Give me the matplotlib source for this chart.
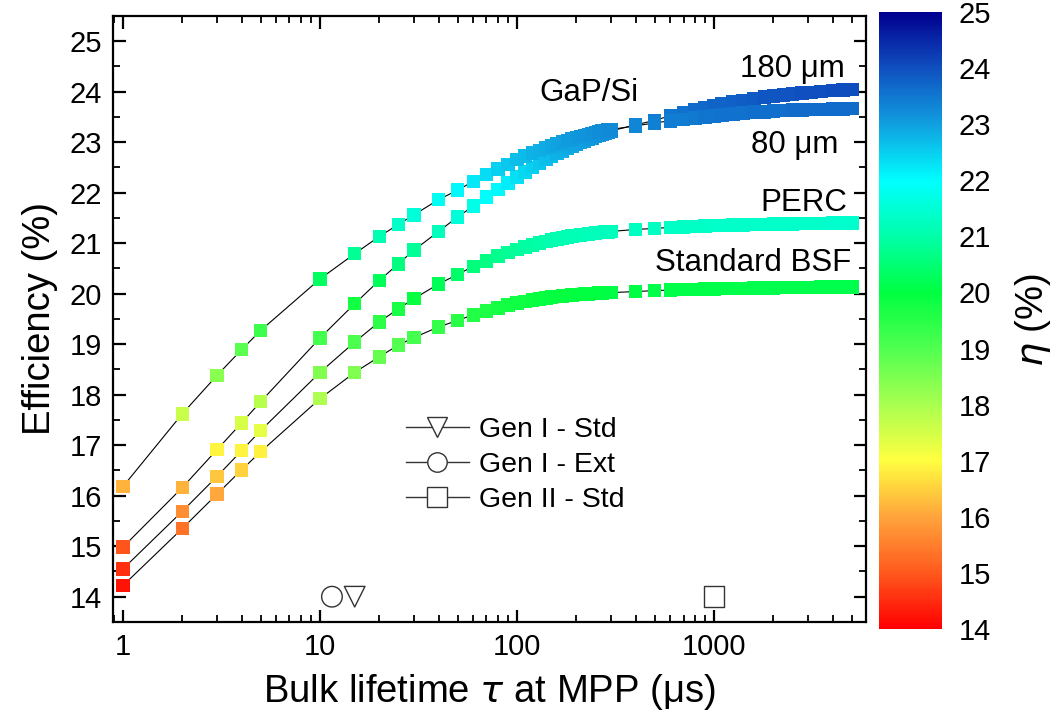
import numpy as np
import matplotlib
matplotlib.use("Agg")
import matplotlib.pyplot as plt
from matplotlib.colors import LinearSegmentedColormap, Normalize
from matplotlib.ticker import FixedLocator, FuncFormatter, MultipleLocator, LogLocator
from matplotlib.lines import Line2D

plt.rcParams['font.family'] = ['Liberation Sans', 'DejaVu Sans']
plt.rcParams['mathtext.fontset'] = 'dejavusans'

# bulk lifetime (us)
tau = [1, 2, 3, 4, 5, 10, 15, 20, 25, 30, 40, 50, 60, 70, 80, 90, 100,
       110, 120, 130, 140, 150, 160, 170, 180, 190, 200, 210, 220, 230, 240,
       250, 260, 270, 280, 290, 300, 400, 500,
       600, 700, 800, 900, 1000, 1100, 1250, 1400, 1600, 1800, 2000, 2250,
       2500, 2800, 3100, 3500, 4000, 4500, 5000]

# efficiencies (%)
eff_gap_80 = [16.18, 17.62, 18.38, 18.89, 19.27, 20.29, 20.79, 21.13, 21.37, 21.56, 21.86, 22.05, 22.22, 22.36, 22.47, 22.56, 22.65,
              22.72, 22.78, 22.83, 22.88, 22.92, 22.96, 23.00, 23.03, 23.06, 23.09, 23.11, 23.13, 23.15, 23.17,
              23.19, 23.20, 23.22, 23.23, 23.24, 23.25, 23.32, 23.38,
              23.42, 23.45, 23.48, 23.50, 23.52, 23.54, 23.56, 23.57, 23.59, 23.60, 23.61, 23.62,
              23.63, 23.63, 23.64, 23.64, 23.65, 23.65, 23.66]
eff_gap_180 = [14.98, 16.16, 16.91, 17.44, 17.86, 19.12, 19.80, 20.26, 20.59, 20.86, 21.23, 21.52, 21.73, 21.91, 22.06, 22.19, 22.31,
               22.41, 22.50, 22.58, 22.65, 22.71, 22.77, 22.82, 22.87, 22.91, 22.95, 22.99, 23.02, 23.05, 23.08,
               23.11, 23.13, 23.16, 23.18, 23.20, 23.22, 23.34, 23.43,
               23.52, 23.58, 23.63, 23.67, 23.72, 23.75, 23.79, 23.82, 23.86, 23.89, 23.91, 23.93,
               23.95, 23.97, 23.98, 24.00, 24.02, 24.03, 24.04]
eff_perc = [14.55, 15.69, 16.38, 16.89, 17.29, 18.44, 19.04, 19.44, 19.70, 19.90, 20.19, 20.38, 20.54, 20.65, 20.74, 20.81, 20.87,
            20.92, 20.96, 21.00, 21.03, 21.06, 21.08, 21.10, 21.12, 21.14, 21.15, 21.16, 21.17, 21.18, 21.19,
            21.20, 21.21, 21.21, 21.22, 21.22, 21.23, 21.27, 21.29,
            21.31, 21.32, 21.33, 21.34, 21.35, 21.35, 21.36, 21.36, 21.37, 21.37, 21.38, 21.38,
            21.38, 21.39, 21.39, 21.39, 21.40, 21.40, 21.40]
eff_bsf = [14.22, 15.35, 16.03, 16.51, 16.87, 17.92, 18.44, 18.75, 18.98, 19.13, 19.34, 19.47, 19.58, 19.66, 19.72, 19.77, 19.81,
           19.84, 19.87, 19.89, 19.91, 19.93, 19.94, 19.95, 19.96, 19.97, 19.98, 19.98, 19.99, 19.99, 20.00,
           20.00, 20.01, 20.01, 20.02, 20.02, 20.02, 20.04, 20.06,
           20.07, 20.08, 20.08, 20.09, 20.09, 20.10, 20.10, 20.10, 20.11, 20.11, 20.11, 20.12,
           20.12, 20.12, 20.12, 20.13, 20.13, 20.13, 20.13]

# measured wafers (open symbols at the bottom)
gen_labels = ["Gen I - Std", "Gen I - Ext", "Gen II - Std"]
gen_tau = [15, 11.5, 1000]
gen_eff = [14, 14, 14]
gen_markers = ["v", "o", "s"]

# colour scale for eta
cmap_vals = [14, 15, 16, 17, 18, 19, 20, 21, 22, 23, 24, 25]
cmap_cols = ["#ff0000", "#ff5a1e", "#ffa53c", "#ffff40", "#a8ff50", "#50ff50",
             "#00ff40", "#00ffa8", "#00ffff", "#10a0e0", "#1050c0", "#000090"]
pos = [(v - 14) / 11 for v in cmap_vals]
cmap = LinearSegmentedColormap.from_list("eta", list(zip(pos, cmap_cols)))
norm = Normalize(vmin=14, vmax=25)

fig = plt.figure(figsize=(10.56, 7.26), dpi=100)
ax = fig.add_axes([0.107, 0.1433, 0.713, 0.835])
cax = fig.add_axes([0.8324, 0.1336, 0.0597, 0.85])

for eff in [eff_bsf, eff_perc, eff_gap_180, eff_gap_80]:
    ax.plot(tau, eff, color="k", lw=0.8, zorder=1)
    ax.scatter(tau, eff, c=eff, cmap=cmap, norm=norm, marker="s", s=95,
               linewidths=0, zorder=2)

for t, e, m in zip(gen_tau, gen_eff, gen_markers):
    ax.scatter(t, e, marker=m, s=220, facecolors="none", edgecolors="#333333",
               linewidths=1.0, zorder=3)

ax.set_xscale("log")
ax.set_xlim(0.89, 5900)
ax.set_ylim(13.5, 25.5)
ax.xaxis.set_major_locator(FixedLocator([1, 10, 100, 1000]))
ax.xaxis.set_major_formatter(FuncFormatter(lambda v, p: f"{v:g}"))
ax.xaxis.set_minor_locator(LogLocator(base=10, subs=np.arange(2, 10)))
ax.yaxis.set_major_locator(MultipleLocator(1))
ax.yaxis.set_minor_locator(MultipleLocator(0.5))
ax.tick_params(which="both", direction="in", top=True, right=True, labelsize=21)
ax.tick_params(which="major", length=9, width=1.6)
ax.tick_params(which="minor", length=5, width=1.3)
ax.tick_params(axis="y", pad=8)
ax.tick_params(axis="x", pad=8)
for sp in ax.spines.values():
    sp.set_linewidth(1.6)

ax.set_xlabel(r"Bulk lifetime $\tau$ at MPP (μs)", fontsize=27.5, labelpad=8)
ax.set_ylabel("Efficiency (%)", fontsize=27.5, labelpad=8)

ax.text(0.632, 0.872, "GaP/Si", transform=ax.transAxes, fontsize=22.5, ha="center", va="center")
ax.text(0.972, 0.912, "180 μm", transform=ax.transAxes, fontsize=22.5, ha="right", va="center")
ax.text(0.963, 0.787, "80 μm", transform=ax.transAxes, fontsize=22.5, ha="right", va="center")
ax.text(0.975, 0.691, "PERC", transform=ax.transAxes, fontsize=22.5, ha="right", va="center")
ax.text(0.981, 0.592, "Standard BSF", transform=ax.transAxes, fontsize=22.5, ha="right", va="center")

handles = [Line2D([], [], color="#333333", lw=1.0, marker=m, ms=14, mfc="white",
                  mec="#333333", mew=1.0) for m in gen_markers]
fig.legend(handles, gen_labels, loc="center left", bbox_to_anchor=(0.3845, 0.3595),
           frameon=False, fontsize=20.5, handlelength=2.2, handletextpad=0.35,
           labelspacing=0.3, borderpad=0, borderaxespad=0)

sm = plt.cm.ScalarMappable(norm=norm, cmap=cmap)
cb = fig.colorbar(sm, cax=cax, ticks=range(14, 26))
cb.outline.set_visible(False)
cax.tick_params(length=0, labelsize=21, pad=12)
cb.set_label(r"$\eta$ (%)", fontsize=27.5, rotation=90, labelpad=16)

fig.savefig("out.png", dpi=100)
